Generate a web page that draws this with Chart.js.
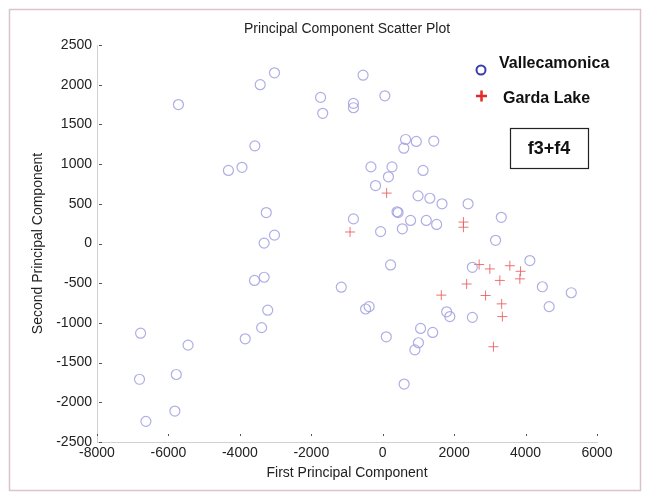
<!DOCTYPE html>
<html>
<head>
<meta charset="utf-8">
<title>Principal Component Scatter Plot</title>
<script src="https://cdn.jsdelivr.net/npm/chart.js@4"></script>
<style>
  html, body { margin: 0; padding: 0; background: #fff; }
  #wrap { width: 647px; height: 492px; }
</style>
</head>
<body>
<div id="wrap"><canvas id="pca" width="647" height="492"></canvas></div>
<script>
// Vallecamonica samples (PC1, PC2)
const valleX = [-5720, -3430, -3030, -1740, -1680, -3580, -4320, -3940, -3260, -3030,
  -3320, -3590, -3320, -3220, -3390, -3850, -6780, -5450, -6810, -5780,
  -5820, -6630, -550, -820, -820, 60, 640, 940, 1430, 590,
  -330, 260, 1130, 160, -200, 990, 1320, 1660, 2390, 400,
  430, -820, 780, 1220, 1510, -60, 550, 3320, 3160, 4120,
  2510, 220, -1160, -480, -380, 4470, 5280, 4660, 1790, 1880,
  2510, 1060, 1400, 100, 1000, 900, 600];
const valleY = [1750, 2000, 2150, 1840, 1640, 1230, 920, 960, 390, 105,
  5, -465, -425, -840, -1060, -1200, -1130, -1280, -1710, -1650,
  -2110, -2240, 2120, 1765, 1710, 1860, 1310, 1285, 1290, 1200,
  965, 965, 920, 840, 730, 600, 570, 500, 500, 400,
  390, 310, 290, 290, 240, 150, 185, 330, 40, -215,
  -300, -270, -550, -825, -795, -545, -620, -795, -860, -920,
  -930, -1070, -1120, -1175, -1250, -1340, -1770];

// Garda Lake samples (PC1, PC2)
const gardaX = [110, -915, 2260, 2260, 2700, 3000, 3560, 3860, 3840, 2350,
  3280, 1640, 2880, 3330, 3350, 3100];
const gardaY = [635, 145, 270, 205, -265, -320, -280, -350, -445, -510,
  -465, -650, -655, -760, -920, -1300];

const xTicks = [-8000, -6000, -4000, -2000, 0, 2000, 4000, 6000];
const yTicks = [-2500, -2000, -1500, -1000, -500, 0, 500, 1000, 1500, 2000, 2500];

const FONT = "'Liberation Sans', Arial, Helvetica, sans-serif";

const toPoints = (xs, ys) => xs.map((x, i) => ({ x: x, y: ys[i] }));

// figure frame, title, legend and the "f3+f4" label box
const decorations = {
  id: 'decorations',
  beforeDraw(chart) {
    const ctx = chart.ctx;
    ctx.save();
    ctx.fillStyle = '#fff';
    ctx.fillRect(0, 0, chart.width, chart.height);
    ctx.strokeStyle = '#dcc3ca';
    ctx.lineWidth = 1.5;
    ctx.strokeRect(9.5, 9.5, 631, 481);
    ctx.restore();
  },
  afterDraw(chart) {
    const ctx = chart.ctx;
    const area = chart.chartArea;
    const xs = chart.scales.x, ys = chart.scales.y;
    ctx.save();

    // small inward tick marks
    ctx.strokeStyle = '#555';
    ctx.lineWidth = 1;
    xTicks.forEach(v => {
      const px = Math.round(xs.getPixelForValue(v)) + 0.5;
      ctx.beginPath();
      ctx.moveTo(px, area.bottom - 8);
      ctx.lineTo(px, area.bottom - 6);
      ctx.stroke();
    });
    yTicks.forEach(v => {
      const py = Math.round(ys.getPixelForValue(v)) + 0.5;
      ctx.beginPath();
      ctx.moveTo(area.left + 2, py);
      ctx.lineTo(area.left + 5, py);
      ctx.stroke();
    });

    // title
    ctx.fillStyle = '#222';
    ctx.font = '14px ' + FONT;
    ctx.textAlign = 'center';
    ctx.textBaseline = 'middle';
    ctx.fillText('Principal Component Scatter Plot', (area.left + area.right) / 2, 29);

    // legend
    const ds = chart.data.datasets;
    ctx.lineWidth = 2;
    ctx.strokeStyle = '#3c3caa';
    ctx.beginPath();
    ctx.arc(481, 70, 4.5, 0, Math.PI * 2);
    ctx.stroke();
    ctx.strokeStyle = '#e62828';
    ctx.lineWidth = 2.5;
    ctx.beginPath();
    ctx.moveTo(476, 96); ctx.lineTo(487, 96);
    ctx.moveTo(481.5, 90.5); ctx.lineTo(481.5, 101.5);
    ctx.stroke();
    ctx.fillStyle = '#111';
    ctx.font = 'bold 16px ' + FONT;
    ctx.textAlign = 'left';
    ctx.fillText(ds[0].label, 499, 64);
    ctx.fillText(ds[1].label, 503, 99);

    // annotation box
    ctx.strokeStyle = '#222';
    ctx.lineWidth = 1.2;
    ctx.strokeRect(510.5, 128.5, 78, 40);
    ctx.font = 'bold 18px ' + FONT;
    ctx.textAlign = 'center';
    ctx.fillText('f3+f4', 549, 149);
    ctx.restore();
  }
};

const axisFont = { family: FONT, size: 14 };

new Chart(document.getElementById('pca').getContext('2d'), {
  type: 'scatter',
  data: {
    datasets: [{
      label: 'Vallecamonica',
      data: toPoints(valleX, valleY),
      pointStyle: 'circle',
      pointRadius: 5,
      pointBorderWidth: 1.2,
      pointBorderColor: 'rgba(160, 160, 225, 0.85)',
      pointBackgroundColor: 'rgba(0, 0, 0, 0)'
    }, {
      label: 'Garda Lake',
      data: toPoints(gardaX, gardaY),
      pointStyle: 'cross',
      pointRadius: 5,
      pointBorderWidth: 1,
      pointBorderColor: 'rgba(235, 90, 90, 0.85)',
      pointBackgroundColor: 'rgba(0, 0, 0, 0)'
    }]
  },
  options: {
    responsive: false,
    animation: false,
    events: [],
    layout: { padding: { left: 0, right: 50, top: 45, bottom: 0 } },
    plugins: {
      legend: { display: false },
      title: { display: false },
      tooltip: { enabled: false }
    },
    scales: {
      x: {
        type: 'linear',
        min: -8000,
        max: 6000,
        afterBuildTicks: s => { s.ticks = xTicks.map(v => ({ value: v })); },
        ticks: { color: '#222', font: axisFont, padding: 3, maxRotation: 0, callback: v => String(v) },
        grid: { display: false, drawTicks: false },
        border: { display: true, color: '#d0d0d0', width: 1 },
        title: { display: true, text: 'First Principal Component', color: '#222', font: axisFont, padding: { top: 0, bottom: 10 } },
        afterFit: s => { s.height = 50; }
      },
      y: {
        type: 'linear',
        min: -2500,
        max: 2500,
        afterBuildTicks: s => { s.ticks = yTicks.map(v => ({ value: v })); },
        ticks: { color: '#222', font: axisFont, padding: 5, callback: v => String(v) },
        grid: { display: false, drawTicks: false },
        border: { display: true, color: '#d0d0d0', width: 1 },
        title: { display: true, text: 'Second Principal Component', color: '#222', font: axisFont, padding: { top: 30, bottom: 0 } },
        afterFit: s => { s.width = 97; }
      }
    }
  },
  plugins: [decorations]
});
</script>
</body>
</html>
